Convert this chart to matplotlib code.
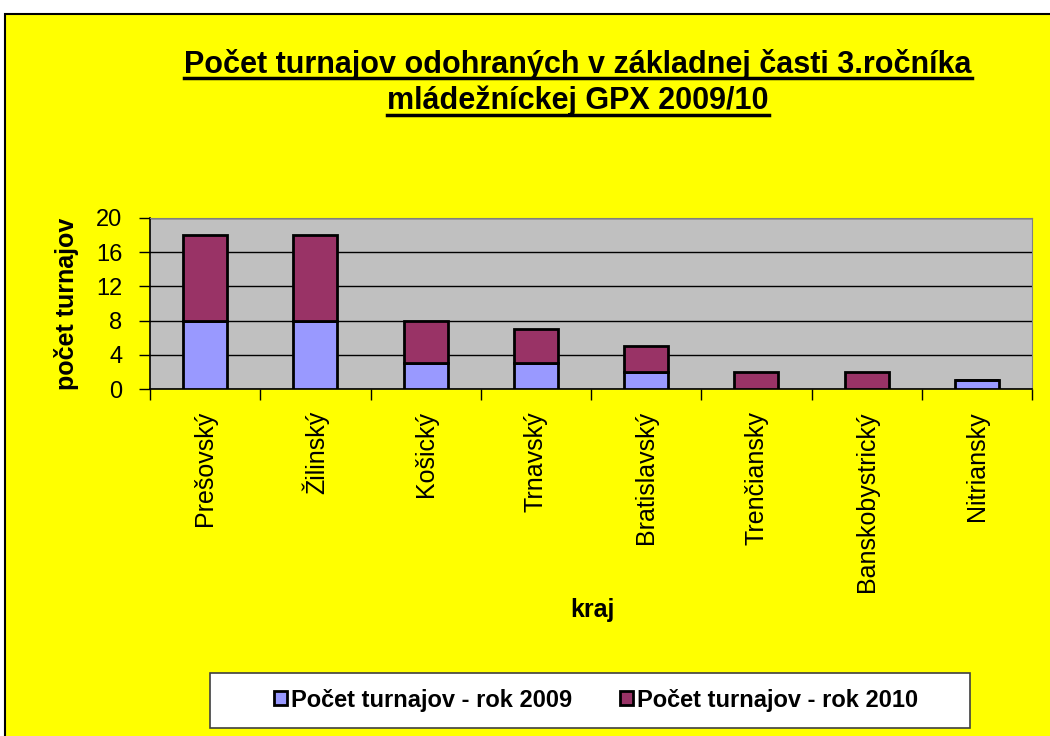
import matplotlib.pyplot as plt
from matplotlib.patches import Rectangle
from matplotlib.lines import Line2D
import numpy as np

plt.rcParams['font.family'] = ['Liberation Sans', 'DejaVu Sans']

kraje = ['Prešovský', 'Žilinský', 'Košický', 'Trnavský', 'Bratislavský',
         'Trenčiansky', 'Banskobystrický', 'Nitriansky']
rok_2009 = [8, 8, 3, 3, 2, 0, 0, 1]
rok_2010 = [10, 10, 5, 4, 3, 2, 2, 0]
y_ticks = [0, 4, 8, 12, 16, 20]
title_lines = ['Počet turnajov odohraných v základnej časti 3.ročníka',
               'mládežníckej GPX 2009/10']
legend_labels = ['Počet turnajov - rok 2009', 'Počet turnajov - rok 2010']

W, H = 1050, 736
fig = plt.figure(figsize=(W / 100, H / 100), dpi=100, facecolor='white')

# yellow chart area with black border
fig.patches.append(Rectangle((5 / W, -0.05), 1.1, (H - 14) / H + 0.05,
                             transform=fig.transFigure, facecolor='#FFFF00',
                             edgecolor='black', linewidth=1.5, zorder=-2))

ax = fig.add_axes([150 / W, (H - 389) / H, (1032 - 150) / W, (389 - 218) / H])
ax.set_zorder(1)
ax.set_facecolor('#C0C0C0')

x = np.arange(len(kraje))
ax.bar(x, rok_2009, width=0.4, color='#9999FF', edgecolor='black',
       linewidth=2, zorder=3, label=legend_labels[0])
ax.bar(x, rok_2010, width=0.4, bottom=rok_2009, color='#993366',
       edgecolor='black', linewidth=2, zorder=3, label=legend_labels[1])

ax.set_xlim(-0.5, len(kraje) - 0.5)
ax.set_ylim(0, 20)
ax.set_yticks(y_ticks)
ax.yaxis.grid(True, color='black', linewidth=1)
ax.set_axisbelow(True)
ax.tick_params(axis='y', labelsize=17, length=8, width=1, direction='out', pad=12)

ax.set_xticks(x)
ax.set_xticklabels(kraje, rotation=90, fontsize=18)
ax.tick_params(axis='x', which='major', length=0, pad=16)
ax.set_xticks(np.arange(len(kraje) + 1) - 0.5, minor=True)
ax.tick_params(axis='x', which='minor', length=8, width=1, direction='out')

for s in ['top', 'right']:
    ax.spines[s].set_color('#808080')
for s in ['left', 'bottom']:
    ax.spines[s].set_color('black')
    ax.spines[s].set_linewidth(1.2)

ax.set_ylabel('počet turnajov', fontsize=18, fontweight='bold', labelpad=12)
fig.text(592 / W, 1 - 610 / H, 'kraj', fontsize=18, fontweight='bold',
         ha='center', va='center')

# title with underline
ys = [1 - 64 / H, 1 - 101 / H]
texts = [fig.text(578 / W, yy, t, fontsize=22, fontweight='bold',
                  ha='center', va='center') for t, yy in zip(title_lines, ys)]
fig.canvas.draw()
r = fig.canvas.get_renderer()
for t in texts:
    bb = t.get_window_extent(r).transformed(fig.transFigure.inverted())
    fig.add_artist(Line2D([bb.x0, bb.x1], [bb.y0 + 0.002, bb.y0 + 0.002],
                          transform=fig.transFigure, color='black', linewidth=2.5))

# legend box
fig.patches.append(Rectangle((210 / W, 1 - 728 / H), 760 / W, 55 / H,
                             transform=fig.transFigure, facecolor='white',
                             edgecolor='#404040', linewidth=1.2, zorder=1))
handles, labels = ax.get_legend_handles_labels()
leg = fig.legend(handles, labels, loc='center', ncol=2,
                 bbox_to_anchor=(596 / W, 1 - 700 / H), frameon=False,
                 prop={'size': 17, 'weight': 'bold'}, handlelength=0.55,
                 handleheight=0.55, handletextpad=0.2, columnspacing=2.0)
leg.set_zorder(2)

fig.savefig('out.png', dpi=100, facecolor=fig.get_facecolor())
